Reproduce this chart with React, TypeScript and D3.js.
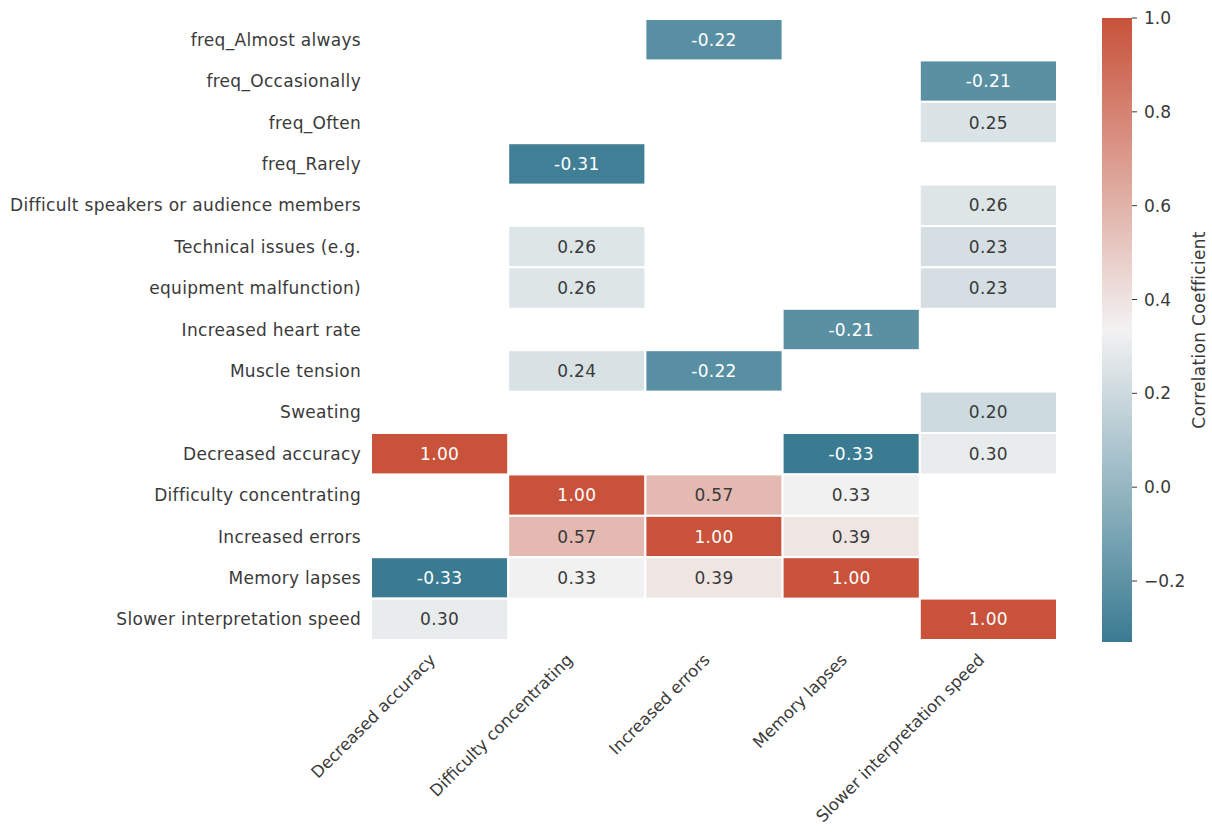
import React from "react";
import * as d3 from "d3";

const rowLabels = [
  "freq_Almost always",
  "freq_Occasionally",
  "freq_Often",
  "freq_Rarely",
  "Difficult speakers or audience members",
  "Technical issues (e.g.",
  "equipment malfunction)",
  "Increased heart rate",
  "Muscle tension",
  "Sweating",
  "Decreased accuracy",
  "Difficulty concentrating",
  "Increased errors",
  "Memory lapses",
  "Slower interpretation speed",
];
const colLabels = [
  "Decreased accuracy",
  "Difficulty concentrating",
  "Increased errors",
  "Memory lapses",
  "Slower interpretation speed",
];
const N = null;
const values: (number | null)[][] = [
  [N, N, -0.22, N, N],
  [N, N, N, N, -0.21],
  [N, N, N, N, 0.25],
  [N, -0.31, N, N, N],
  [N, N, N, N, 0.26],
  [N, 0.26, N, N, 0.23],
  [N, 0.26, N, N, 0.23],
  [N, N, N, -0.21, N],
  [N, 0.24, -0.22, N, N],
  [N, N, N, N, 0.2],
  [1.0, N, N, -0.33, 0.3],
  [N, 1.0, 0.57, 0.33, N],
  [N, 0.57, 1.0, 0.39, N],
  [-0.33, 0.33, 0.39, 1.0, N],
  [0.3, N, N, N, 1.0],
];
const cbTicks = [-0.2, 0.0, 0.2, 0.4, 0.6, 0.8, 1.0];
const vmin = -0.33;
const vmax = 1.0;

const FONT = "'DejaVu Sans', sans-serif";
const TXT = "#3a3a3a";
const FS = 17;
const LS = 0.3;

export default function App() {
  const left = 371;
  const right = 1057;
  const top = 19;
  const bottom = 640;
  const x = d3.scaleBand<number>().domain(d3.range(colLabels.length)).range([left, right]);
  const y = d3.scaleBand<number>().domain(d3.range(rowLabels.length)).range([top, bottom]);
  const mid = (vmin + vmax) / 2;
  const color = d3
    .scaleLinear<string>()
    .domain([vmin, mid, vmax])
    .range(["#3a7b92", "#f2f2f2", "#c8523a"])
    .interpolate(d3.interpolateRgb);
  const cbX = 1102;
  const cbW = 30;
  const cbTop = 18;
  const cbBottom = 642;
  const cbScale = d3.scaleLinear().domain([vmin, vmax]).range([cbBottom, cbTop]);
  const stops = d3.range(0, 1.0001, 0.05);
  const lum = (c: string) => {
    const rgb = d3.rgb(c);
    const f = (v: number) => {
      v /= 255;
      return v <= 0.03928 ? v / 12.92 : Math.pow((v + 0.055) / 1.055, 2.4);
    };
    return 0.2126 * f(rgb.r) + 0.7152 * f(rgb.g) + 0.0722 * f(rgb.b);
  };
  return (
    <svg width={1212} height={834} style={{ position: "absolute", left: 0, top: 0, background: "#fff" }}>
      <defs>
        <linearGradient id="cbg" x1="0" y1="1" x2="0" y2="0">
          {stops.map((t, i) => (
            <stop key={i} offset={t} stopColor={color(vmin + t * (vmax - vmin))} />
          ))}
        </linearGradient>
      </defs>
      {values.map((row, r) =>
        row.map((v, c) => {
          if (v === null) return null;
          const fill = color(v);
          return (
            <g key={`${r}-${c}`}>
              <rect
                x={x(c)}
                y={y(r)}
                width={x.bandwidth()}
                height={y.bandwidth()}
                fill={fill}
                stroke="#fff"
                strokeWidth={2}
              />
              <text
                x={(x(c) as number) + x.bandwidth() / 2}
                y={(y(r) as number) + y.bandwidth() / 2}
                textAnchor="middle"
                dominantBaseline="central"
                fontFamily={FONT}
                fontSize={FS}
                letterSpacing={LS}
                fill={lum(fill) > 0.408 ? TXT : "#fff"}
              >
                {v.toFixed(2)}
              </text>
            </g>
          );
        })
      )}
      {rowLabels.map((l, r) => (
        <text
          key={l}
          x={left - 10}
          y={(y(r) as number) + y.bandwidth() / 2}
          textAnchor="end"
          dominantBaseline="central"
          fontFamily={FONT}
          fontSize={FS}
          letterSpacing={LS}
          fill={TXT}
        >
          {l}
        </text>
      ))}
      {colLabels.map((l, c) => {
        const cx = (x(c) as number) + x.bandwidth() / 2;
        const cy = bottom + 17;
        return (
          <text
            key={l}
            transform={`translate(${cx - 7},${cy}) rotate(-45)`}
            textAnchor="end"
            dominantBaseline="central"
            fontFamily={FONT}
            fontSize={16.5}
            fill={TXT}
          >
            {l}
          </text>
        );
      })}
      <rect x={cbX} y={cbTop} width={cbW} height={cbBottom - cbTop} fill="url(#cbg)" />
      {cbTicks.map((t) => (
        <g key={t} transform={`translate(${cbX + cbW},${cbScale(t)})`}>
          <line x1={0} x2={5} stroke={TXT} strokeWidth={1} />
          <text x={12} dominantBaseline="central" fontFamily={FONT} fontSize={FS} fill={TXT}>
            {t < 0 ? "\u2212" + Math.abs(t).toFixed(1) : t.toFixed(1)}
          </text>
        </g>
      ))}
      <text
        transform={`translate(1199,${(cbTop + cbBottom) / 2}) rotate(-90)`}
        textAnchor="middle"
        dominantBaseline="central"
        fontFamily={FONT}
        fontSize={FS}
        letterSpacing={LS}
        fill={TXT}
      >
        Correlation Coefficient
      </text>
    </svg>
  );
}
